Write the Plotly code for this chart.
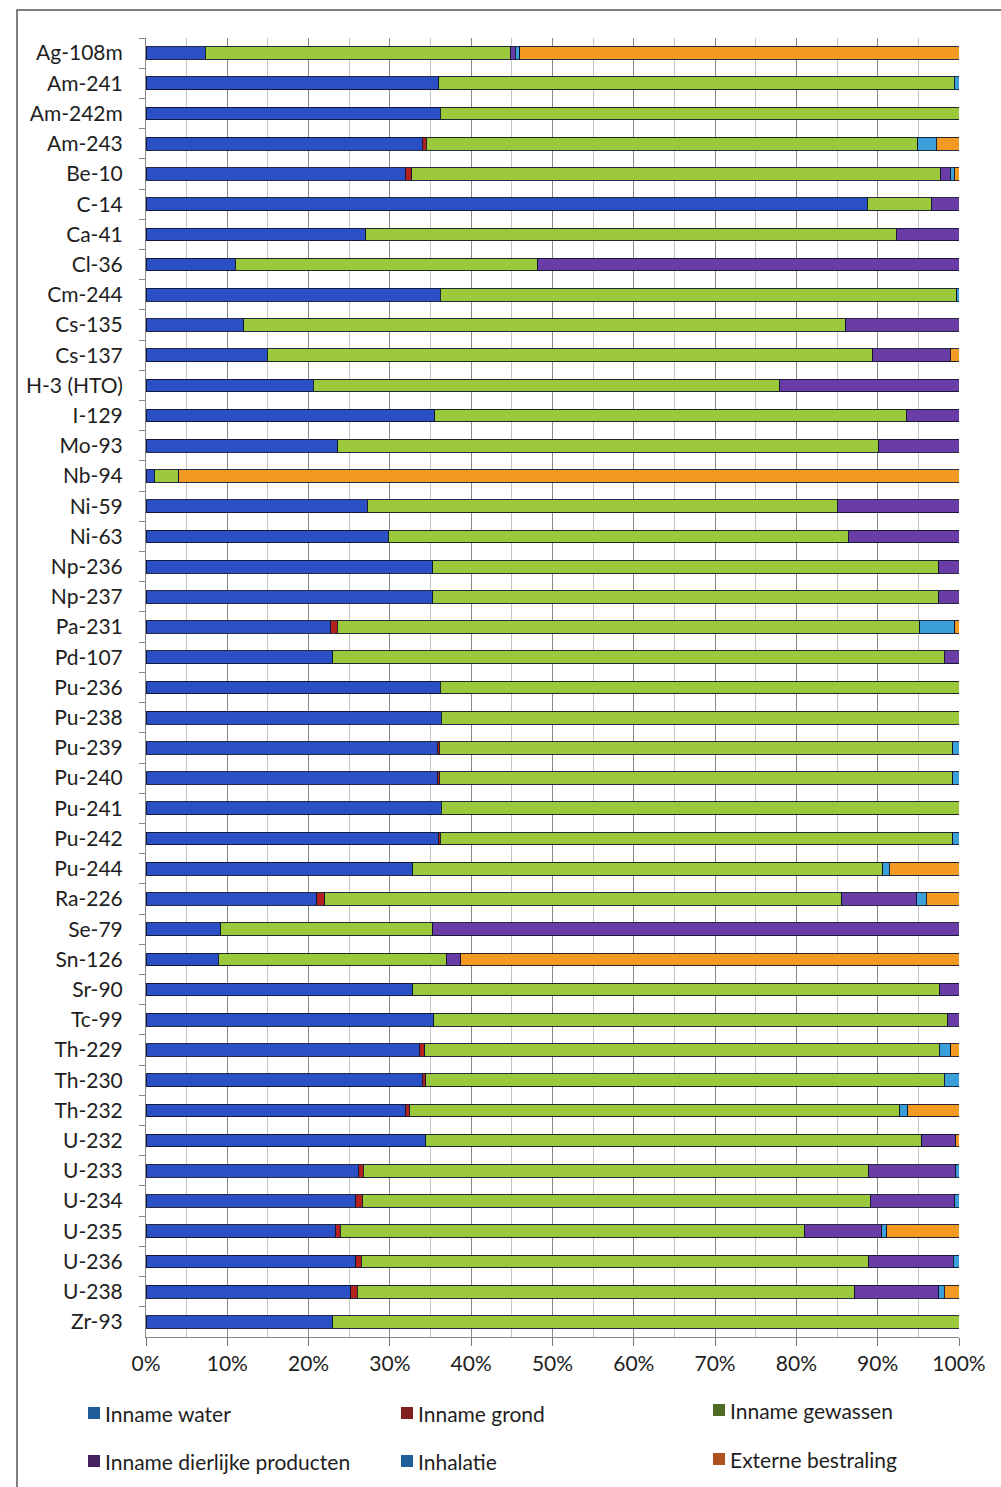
import plotly.graph_objects as go

# Nuclides, top to bottom
nuclides = [
    "Ag-108m", "Am-241", "Am-242m", "Am-243", "Be-10", "C-14", "Ca-41", "Cl-36",
    "Cm-244", "Cs-135", "Cs-137", "H-3 (HTO)", "I-129", "Mo-93", "Nb-94", "Ni-59",
    "Ni-63", "Np-236", "Np-237", "Pa-231", "Pd-107", "Pu-236", "Pu-238", "Pu-239",
    "Pu-240", "Pu-241", "Pu-242", "Pu-244", "Ra-226", "Se-79", "Sn-126", "Sr-90",
    "Tc-99", "Th-229", "Th-230", "Th-232", "U-232", "U-233", "U-234", "U-235",
    "U-236", "U-238", "Zr-93",
]

# Share of each exposure pathway (%)
inname_water = [
    7.3, 36.0, 36.2, 34.0, 31.9, 88.7, 27.0, 11.0,
    36.2, 12.0, 14.9, 20.6, 35.5, 23.6, 1.0, 27.2,
    29.8, 35.3, 35.3, 22.7, 23.0, 36.2, 36.3, 35.8,
    35.8, 36.3, 36.0, 32.8, 21.0, 9.2, 8.9, 32.8,
    35.4, 33.6, 34.0, 31.9, 34.4, 26.1, 25.8, 23.3,
    25.8, 25.2, 23.0,
]
inname_grond = [
    0.0, 0.0, 0.0, 0.5, 0.8, 0.0, 0.0, 0.0,
    0.0, 0.0, 0.0, 0.0, 0.0, 0.0, 0.0, 0.0,
    0.0, 0.0, 0.0, 0.8, 0.0, 0.0, 0.0, 0.3,
    0.3, 0.0, 0.2, 0.0, 1.0, 0.0, 0.0, 0.0,
    0.0, 0.7, 0.4, 0.5, 0.0, 0.6, 0.8, 0.6,
    0.7, 0.8, 0.0,
]
inname_gewassen = [
    37.5, 63.4, 63.8, 60.4, 65.0, 7.9, 65.3, 37.2,
    63.5, 74.1, 74.5, 57.3, 58.0, 66.5, 3.0, 57.8,
    56.6, 62.2, 62.2, 71.7, 75.2, 63.8, 63.7, 63.1,
    63.1, 63.7, 63.0, 57.8, 63.6, 26.1, 28.0, 64.8,
    63.2, 63.3, 63.8, 60.3, 61.0, 62.2, 62.5, 57.1,
    62.4, 61.2, 77.0,
]
inname_dierlijk = [
    0.6, 0.0, 0.0, 0.0, 1.3, 3.4, 7.7, 51.8,
    0.0, 13.9, 9.5, 22.1, 6.5, 9.9, 0.0, 15.0,
    13.6, 2.5, 2.5, 0.0, 1.8, 0.0, 0.0, 0.0,
    0.0, 0.0, 0.0, 0.0, 9.2, 64.7, 1.8, 2.4,
    1.4, 0.0, 0.0, 0.0, 4.2, 10.7, 10.4, 9.5,
    10.4, 10.3, 0.0,
]
inhalatie = [
    0.6, 0.6, 0.0, 2.3, 0.4, 0.0, 0.0, 0.0,
    0.3, 0.0, 0.0, 0.0, 0.0, 0.0, 0.0, 0.0,
    0.0, 0.0, 0.0, 4.3, 0.0, 0.0, 0.0, 0.8,
    0.8, 0.0, 0.8, 0.8, 1.2, 0.0, 0.0, 0.0,
    0.0, 1.4, 1.8, 1.0, 0.0, 0.4, 0.5, 0.6,
    0.7, 0.7, 0.0,
]
externe_bestraling = [
    54.0, 0.0, 0.0, 2.8, 0.6, 0.0, 0.0, 0.0,
    0.0, 0.0, 1.1, 0.0, 0.0, 0.0, 96.0, 0.0,
    0.0, 0.0, 0.0, 0.5, 0.0, 0.0, 0.0, 0.0,
    0.0, 0.0, 0.0, 8.6, 4.0, 0.0, 61.3, 0.0,
    0.0, 1.0, 0.0, 6.3, 0.4, 0.0, 0.0, 8.9,
    0.0, 1.8, 0.0,
]

series_names = [
    "Inname water", "Inname grond", "Inname gewassen",
    "Inname dierlijke producten", "Inhalatie", "Externe bestraling",
]
series_values = [
    inname_water, inname_grond, inname_gewassen,
    inname_dierlijk, inhalatie, externe_bestraling,
]
bar_colors = ["#2B4FC4", "#B3221E", "#9CC93B", "#6A3CA6", "#3BA0DA", "#F39A22"]
key_colors = ["#1F5A99", "#7F1F1F", "#4E6B23", "#44225F", "#1F5F99", "#B0501E"]

W, H = 1001, 1487
L, R, T, B = 146, 42, 38, 150
pw, ph = W - L - R, H - T - B


def px(x):
    return (x - L) / pw


def py(y):
    return (H - B - y) / ph


FONT = "Lato, 'Open Sans', sans-serif"

fig = go.Figure()
for name, vals, col in zip(series_names, series_values, bar_colors):
    fig.add_trace(go.Bar(
        name=name, y=nuclides, x=vals, orientation="h",
        marker=dict(color=col, line=dict(color="rgba(15,20,45,0.9)", width=1)),
        showlegend=False,
    ))

fig.update_layout(
    width=W, height=H,
    margin=dict(l=L, r=R, t=T, b=B),
    paper_bgcolor="white", plot_bgcolor="white",
    barmode="stack", bargap=0.58,
    font=dict(family=FONT, color="#1e1e1e"),
    xaxis=dict(
        range=[0, 100], dtick=10, ticksuffix="%",
        showgrid=True, gridcolor="#8a8a8a", gridwidth=1,
        minor=dict(dtick=5, showgrid=True, gridcolor="#c4c4c4", gridwidth=1),
        ticks="outside", ticklen=8, tickcolor="#777",
        showline=True, linecolor="#888", linewidth=1,
        tickfont=dict(size=21, family=FONT, color="#1e1e1e"),
        zeroline=False, fixedrange=True,
    ),
    yaxis=dict(
        type="category", autorange="reversed",
        tickson="boundaries", ticks="outside", ticklen=6, tickcolor="#888",
        showline=True, linecolor="#888", linewidth=1, showgrid=False,
        tickfont=dict(size=21, family=FONT, color="#1e1e1e"),
        ticklabelstandoff=18, fixedrange=True,
    ),
)

# Outer frame
fig.add_shape(type="rect", xref="paper", yref="paper",
              x0=px(17), x1=px(1010), y0=py(10), y1=py(1500),
              line=dict(color="#555", width=1.5), fillcolor="rgba(0,0,0,0)",
              layer="below")

# Key in three columns, two rows
key_pos = [(88, 1413), (401, 1413), (713, 1410),
           (88, 1461), (401, 1461), (713, 1459)]
for name, col, (kx, ky) in zip(series_names, key_colors, key_pos):
    fig.add_shape(type="rect", xref="paper", yref="paper",
                  x0=px(kx), x1=px(kx + 12), y0=py(ky + 6), y1=py(ky - 6),
                  fillcolor=col, line=dict(width=0))
    fig.add_annotation(xref="paper", yref="paper", x=px(kx + 15), y=py(ky),
                       text=name, showarrow=False, xanchor="left", yanchor="middle",
                       font=dict(size=21, family=FONT, color="#1e1e1e"))

fig.write_html("out.html")
